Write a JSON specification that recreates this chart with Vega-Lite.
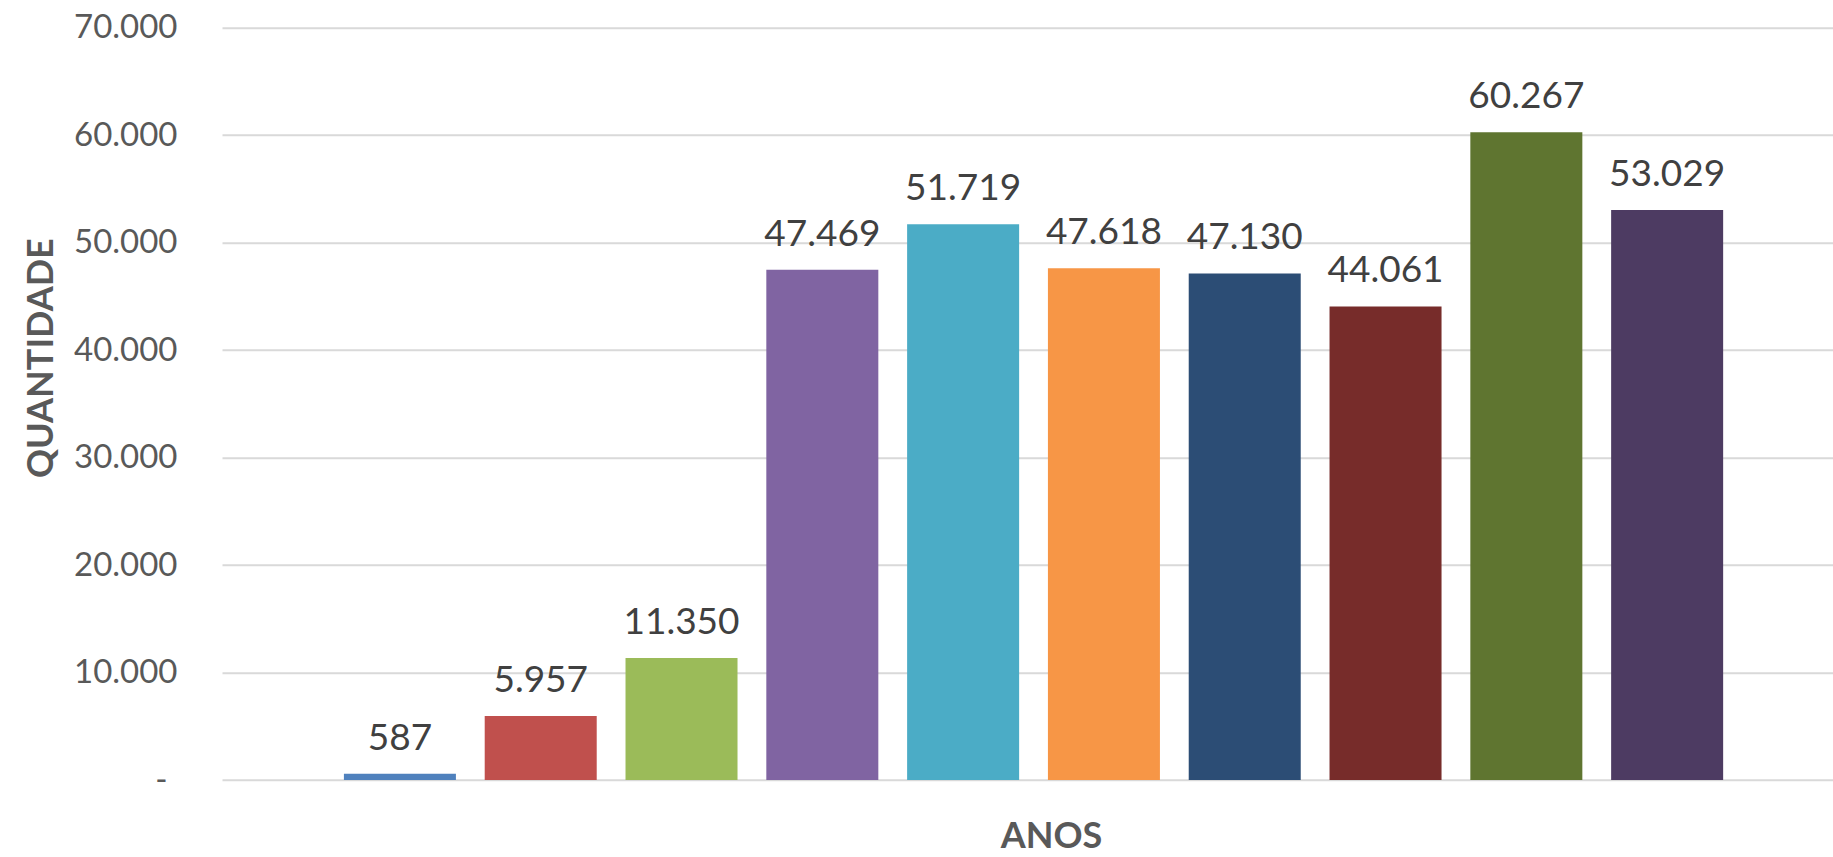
{
  "$schema": "https://vega.github.io/schema/vega-lite/v6.json",
  "width": 1611,
  "height": 752.3,
  "autosize": {"type": "none"},
  "padding": {"left": 222, "top": 27.7, "right": 0, "bottom": 77},
  "background": "white",
  "config": {
    "view": {"stroke": null},
    "font": "Lato",
    "locale": {"number": {"decimal": ",", "thousands": ".", "grouping": [3], "currency": ["R$", ""]}}
  },
  "data": {
    "values": [
      {"serie": "S1", "valor": 587},
      {"serie": "S2", "valor": 5957},
      {"serie": "S3", "valor": 11350},
      {"serie": "S4", "valor": 47469},
      {"serie": "S5", "valor": 51719},
      {"serie": "S6", "valor": 47618},
      {"serie": "S7", "valor": 47130},
      {"serie": "S8", "valor": 44061},
      {"serie": "S9", "valor": 60267},
      {"serie": "S10", "valor": 53029}
    ]
  },
  "encoding": {
    "x": {
      "field": "serie",
      "type": "nominal",
      "sort": null,
      "scale": {"paddingInner": 0.2045, "paddingOuter": 0.823, "align": 0.526, "round": false},
      "axis": {
        "labels": false,
        "ticks": false,
        "domain": false,
        "grid": false,
        "title": "ANOS",
        "titleX": 829,
        "titleY": 39,
        "titleAlign": "center",
        "titleBaseline": "top",
        "titleFontSize": 36,
        "titleFontWeight": "bold",
        "titleColor": "#595959",
        "titleFont": "Lato"
      }
    },
    "y": {
      "field": "valor",
      "type": "quantitative",
      "scale": {"domain": [0, 70000], "nice": false},
      "axis": {
        "values": [0, 10000, 20000, 30000, 40000, 50000, 60000, 70000],
        "ticks": false,
        "domain": false,
        "grid": true,
        "gridColor": "#D9D9D9",
        "gridWidth": 2,
        "labelFontSize": 33,
        "labelFont": "Lato",
        "labelColor": "#595959",
        "labelPadding": {"condition": {"test": "datum.value === 0", "value": 55}, "value": 45},
        "labelExpr": "datum.value === 0 ? '-' : format(datum.value, ',')",
        "title": "QUANTIDADE",
        "titleX": -170,
        "titleY": 330,
        "titleAngle": -90,
        "titleAlign": "center",
        "titleBaseline": "alphabetic",
        "titleFontSize": 36,
        "titleFontWeight": "bold",
        "titleColor": "#595959",
        "titleFont": "Lato"
      }
    }
  },
  "layer": [
    {
      "mark": {"type": "bar"},
      "encoding": {
        "color": {
          "field": "serie",
          "type": "nominal",
          "sort": null,
          "legend": null,
          "scale": {
            "domain": ["S1", "S2", "S3", "S4", "S5", "S6", "S7", "S8", "S9", "S10"],
            "range": ["#4F81BD", "#C0504D", "#9BBB59", "#8064A2", "#4BACC6", "#F79646", "#2C4D75", "#772C2A", "#5F7530", "#4D3B62"]
          }
        }
      }
    },
    {
      "mark": {"type": "text", "dy": -24, "baseline": "alphabetic", "align": "center", "fontSize": 37, "color": "#404040", "font": "Lato"},
      "encoding": {
        "text": {"field": "valor", "type": "quantitative", "format": ","}
      }
    }
  ]
}
